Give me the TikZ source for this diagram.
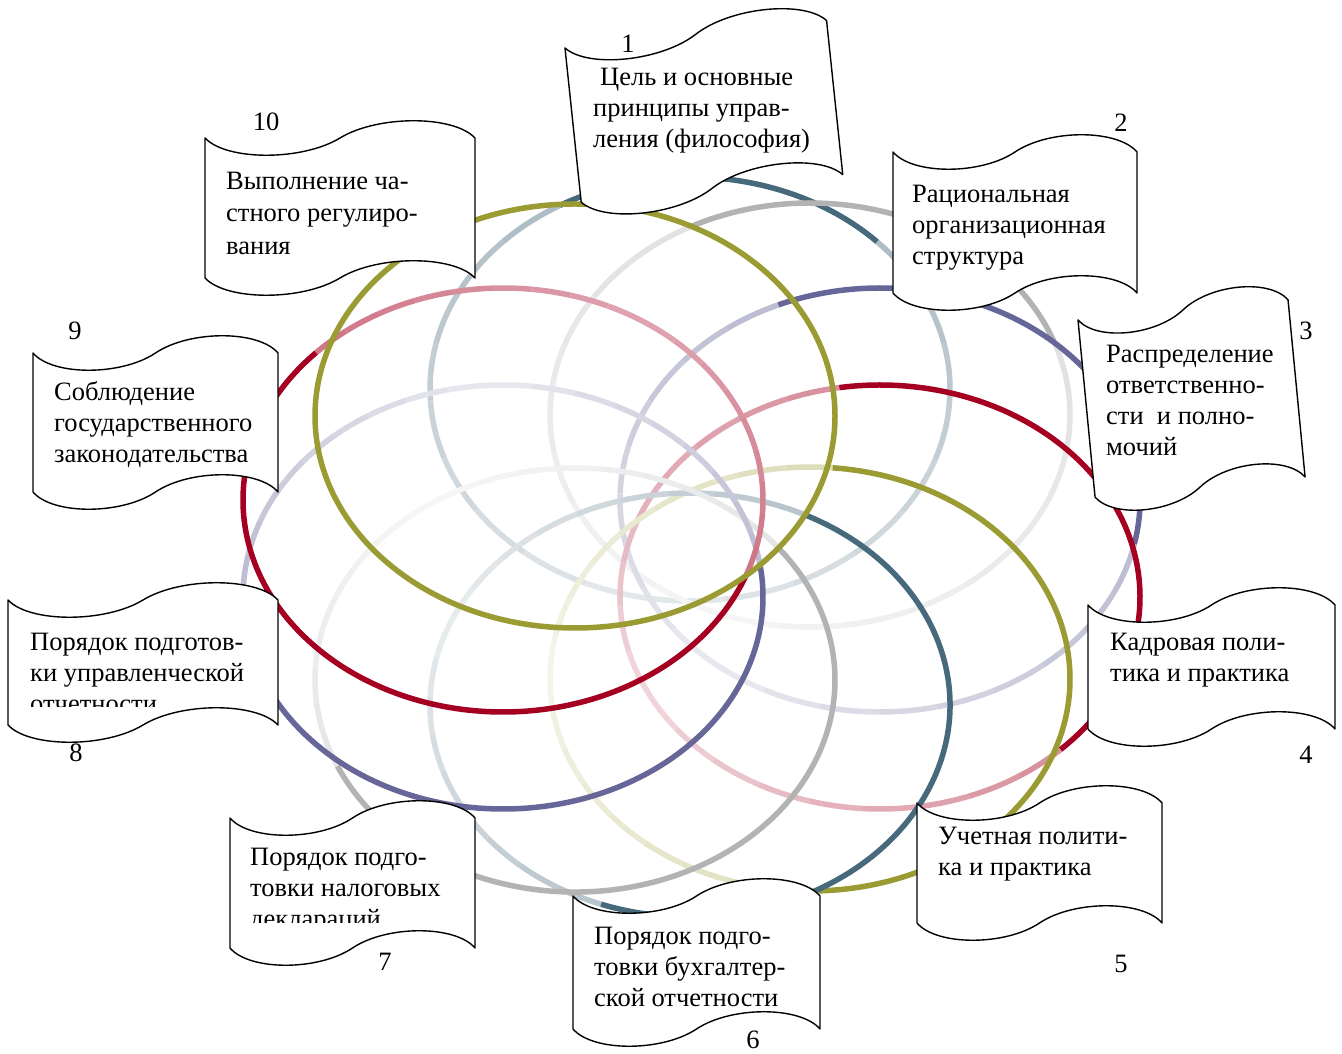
\documentclass[tikz,border=0pt]{standalone}
\usepackage{fontspec}
\setmainfont{Liberation Serif}
\definecolor{rteal}{HTML}{47697C}
\definecolor{rgray}{HTML}{B3B3B3}
\definecolor{rindigo}{HTML}{666699}
\definecolor{rred}{HTML}{A50021}
\definecolor{rolive}{HTML}{9B9B33}
\newcommand\bannerfont{\fontsize{26.5}{31}\selectfont}
\tikzset{
  ringline/.style={line width=5.5pt},
  banner/.style={draw=black, fill=white, line width=1.4pt, line join=round},
  lbl/.style={anchor=north west, inner sep=0pt, align=left, font=\bannerfont, yshift=21.7pt},
  num/.style={anchor=base, inner sep=0pt, font=\bannerfont},
}
% faded part of a ring: cx, cy, colour, solid start, solid end, max tint, min tint
\newcommand\fadedring[7]{%
  \foreach \i in {0,...,17}{%
    \pgfmathsetmacro\ta{#5+(#4+360-#5)*\i/18}%
    \pgfmathsetmacro\tb{#5+(#4+360-#5)*(\i+1)/18}%
    \pgfmathsetmacro\tn{#7+(#6-#7)*abs(1-(2*\i+1)/18)}%
    \draw[ringline,#3!\tn] (#1,#2) ++(\ta:260 and 212)
      arc[start angle=\ta,end angle=\tb,x radius=260,y radius=212];
  }}
% solid part of a ring: cx, cy, colour, start, end
\newcommand\solidring[5]{%
  \draw[ringline,#3] (#1,#2) ++(#4:260 and 212)
    arc[start angle=#4,end angle=#5,x radius=260,y radius=212];}
% wave banner: x, y of top-left corner, width, height, rotation
\newcommand\wavebanner[5]{%
  \begin{scope}[shift={(#1,#2)},rotate=#5]
    \draw[banner] (0,0)
      .. controls ({0.08*#3},-23) and ({0.36*#3},-23) .. ({0.5*#3},0)
      .. controls ({0.64*#3},23) and ({0.92*#3},23) .. (#3,0)
      -- (#3,-#4)
      .. controls ({0.92*#3},{-#4+23}) and ({0.64*#3},{-#4+23}) .. ({0.5*#3},-#4)
      .. controls ({0.36*#3},{-#4-23}) and ({0.08*#3},{-#4-23}) .. (0,-#4)
      -- cycle;
  \end{scope}}
\begin{document}
\begin{tikzpicture}[x=1pt,y=1pt]
\fill[white] (0,0) rectangle (1342,1053);
\useasboundingbox (0,0) rectangle (1342,1053);

% faded parts
\fadedring{690}{664}{rteal}{44}{120}{45}{14}
\fadedring{810}{638}{rgray}{20}{117}{40}{12}
\fadedring{880}{553}{rindigo}{-12}{113}{45}{14}
\fadedring{880}{456}{rred}{-46}{99}{45}{15}
\fadedring{810}{374}{rolive}{-88}{85}{35}{10}
\fadedring{690}{348}{rteal}{-110}{64}{40}{12}
\fadedring{575}{373}{rgray}{-156}{38}{35}{10}
\fadedring{503}{456}{rindigo}{178}{368}{45}{14}
\fadedring{503}{553}{rred}{136}{339}{55}{35}

% solid parts
\solidring{690}{664}{rteal}{44}{120}
\solidring{810}{638}{rgray}{20}{117}
\solidring{880}{553}{rindigo}{-12}{113}
\solidring{880}{456}{rred}{-46}{99}
\solidring{810}{374}{rolive}{-88}{85}
\solidring{690}{348}{rteal}{-110}{64}
\solidring{575}{373}{rgray}{-156}{38}
\solidring{503}{456}{rindigo}{178}{368}
\solidring{503}{553}{rred}{136}{339}
\solidring{575}{637}{rolive}{0}{360}

% banners
\wavebanner{565}{1005}{263}{155}{6}
\wavebanner{893}{901}{244}{141}{0}
\wavebanner{1078}{733}{211}{178}{5.5}
\wavebanner{1088}{448}{247}{124}{0}
\wavebanner{917}{250}{245}{120}{0}
\wavebanner{573}{157}{247}{133}{0}
\wavebanner{230}{235}{245}{130}{0}
\wavebanner{8}{453}{270}{125}{0}
\wavebanner{33}{700}{245}{139}{0}
\wavebanner{205}{915}{270}{140}{0}

% texts
\node[lbl] (t1) at (593,968) {\strut\hspace{7pt}Цель и основные\\принципы управ-\\ления (философия)};
\node[lbl] (t2) at (912,851) {\strut Рациональная\\организационная\\структура};
\node[lbl] (t3) at (1106,691) {\strut Распределение\\ответственно-\\сти~~и полно-\\мочий};
\node[lbl] (t4) at (1110,403) {\strut Кадровая поли-\\тика и практика};
\node[lbl] (t5) at (938,209) {\strut Учетная полити-\\ка и практика};
\node[lbl] (t6) at (594,109) {\strut Порядок подго-\\товки бухгалтер-\\ской отчетности};
\begin{scope}
  \clip (200,130) rectangle (480,300);
  \node[lbl] (t7) at (250,188) {\strut Порядок подго-\\товки налоговых\\деклараций};
\end{scope}
\begin{scope}
  \clip (0,346) rectangle (290,500);
  \node[lbl] (t8) at (30,403) {\strut Порядок подготов-\\ки управленческой\\отчетности};
\end{scope}
\node[lbl] (t9) at (54,653) {\strut Соблюдение\\государственного\\законодательства};
\node[lbl, font=\fontsize{26.5}{32.5}\selectfont] (t10) at (226,865) {\strut Выполнение ча-\\стного регулиро-\\вания};

% numbers
\node[num] (n1) at (628,1000) {1};
\node[num] (n2) at (1121,921) {2};
\node[num] (n3) at (1306,713) {3};
\node[num] (n4) at (1306,289) {4};
\node[num] (n5) at (1121,81) {5};
\node[num] (n6) at (753,5) {6};
\node[num] (n7) at (385,82) {7};
\node[num] (n8) at (76,291) {8};
\node[num] (n9) at (75,713) {9};
\node[num] (n10) at (266,922) {10};
\end{tikzpicture}
\end{document}
